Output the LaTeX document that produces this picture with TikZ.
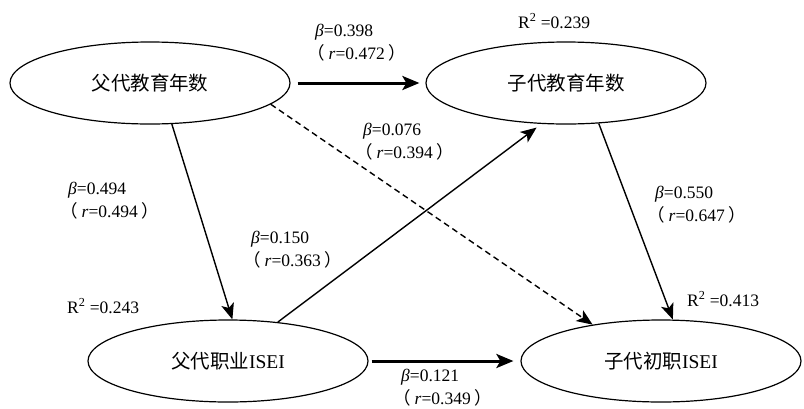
\documentclass[tikz,border=0pt]{standalone}
\usepackage{fontspec}
\setmainfont{Liberation Serif}
\newfontfamily\cjk{Noto Sans CJK SC}
\usetikzlibrary{shapes.geometric,arrows.meta}
% coefficient label: beta over r
\newcommand{\coef}[2]{\textit{β}=#1\\\kern-8pt{\cjk （}\hspace{4pt}\textit{r}=#2\hspace{4pt}{\cjk ）}}

\begin{document}
\begin{tikzpicture}[x=1pt,y=-1pt,
var/.style = {ellipse, draw, line width=1.2pt, minimum width=280pt,
	minimum height=82pt, inner sep=0pt, font=\fontsize{19.5}{22}\selectfont},
lab/.style = {anchor=west, align=left, inner sep=0pt,
	font=\fontsize{17.5}{23}\selectfont},
line/.style = {draw, line width=1.4pt, -{Stealth[length=16pt,width=13pt,inset=4pt]}},
thickline/.style = {draw, line width=3pt, -{Stealth[length=17pt,width=14pt,inset=4pt]}}]

\useasboundingbox (0,0) rectangle (804,408);

\node [var] (fedu) at (150,83) {{\cjk 父代教育年数}};
\node [var] (cedu) at (566,83) {{\cjk 子代教育年数}};
\node [var] (focc) at (228,361) {{\cjk 父代职业}ISEI};
\node [var] (cocc) at (661,361) {{\cjk 子代初职}ISEI};

\node [lab] (b1) at (315,43) {\coef{0.398}{0.472}};
\node [lab] (b2) at (363,142) {\coef{0.076}{0.394}};
\node [lab] (b3) at (68,201) {\coef{0.494}{0.494}};
\node [lab] (b4) at (251,250) {\coef{0.150}{0.363}};
\node [lab] (b5) at (655,205) {\coef{0.550}{0.647}};
\node [lab] (b6) at (401,388) {\coef{0.121}{0.349}};

\node [lab] (r1) at (518,21) {R\textsuperscript{2} =0.239};
\node [lab] (r2) at (67,306) {R\textsuperscript{2} =0.243};
\node [lab] (r3) at (687,299) {R\textsuperscript{2} =0.413};

\begin{scope}
\path [thickline, shorten <=7pt, shorten >=6pt] (fedu.east) -- (cedu.west);
\path [line] (fedu.-62) -- (focc.84);
\path [line, dash pattern=on 6pt off 4pt] (fedu.-10) -- (cocc.152);
\path [line, shorten >=6pt] (focc.38) -- (cedu.-121);
\path [line] (cedu.-51) -- (cocc.74);
\path [thickline, shorten <=3pt, shorten >=7pt] (focc.east) -- (cocc.west);
\end{scope}

\end{tikzpicture}
\end{document}
